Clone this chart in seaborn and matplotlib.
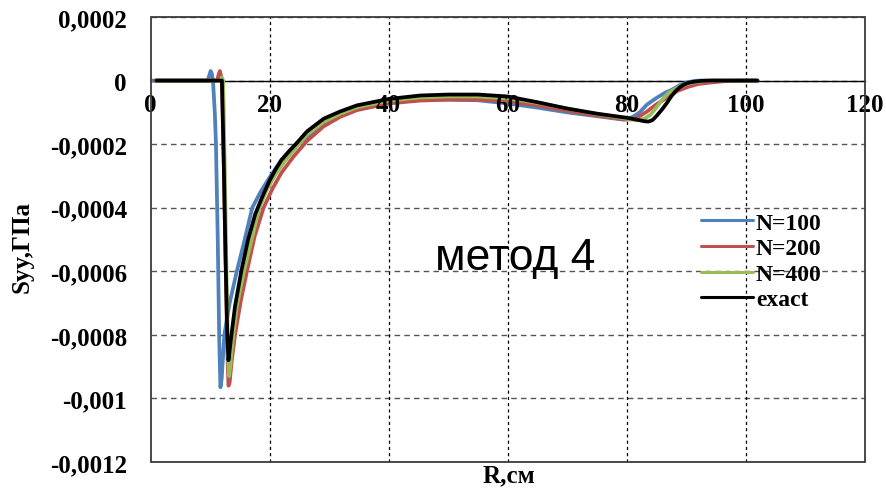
import numpy as np
import pandas as pd
import matplotlib
matplotlib.use("Agg")
import matplotlib.pyplot as plt
from matplotlib.patches import Rectangle
import seaborn as sns

# ---- data: radial coordinate R (cm) and stress Syy (units of 1e-4 GPa) ----
r_n100 = [0.3, 9.6, 9.85, 10.1, 10.3, 10.5, 10.8, 11.0, 11.3, 11.55, 11.75, 11.95, 12.4,
          13.3, 14.5, 15.7, 17.1, 18.5, 20, 22, 23.4, 26.3, 29.1, 31.9, 34.7, 40, 45.3,
          50, 55, 60, 65, 70, 75, 79.5, 81, 82.2, 83.4, 85, 86.5, 87.5, 89, 90.3, 91.5,
          92.5, 102]
s_n100 = [0, 0, 0.15, 0.3, 0.22, 0, -1.0, -2.0, -5.0, -8.2, -9.65, -9.4, -8.0,
          -7.0, -6.0, -5.1, -4.0, -3.5, -3.05, -2.5, -2.2, -1.8, -1.38, -1.1, -0.9, -0.7, -0.6,
          -0.6, -0.62, -0.72, -0.85, -1.0, -1.12, -1.23, -1.15, -1.0, -0.76, -0.55, -0.38, -0.3,
          -0.14, -0.05, -0.01, 0, 0]

r_n200 = [0.8, 11.2, 11.45, 11.65, 11.85, 12.0, 12.3, 12.6, 12.9, 13.1, 13.3, 13.6, 14.2,
          15.2, 16.2, 17.5, 19.0, 20.5, 22, 24, 26.3, 29.1, 31.9, 34.7, 40, 45.3, 50, 55,
          60, 65, 70, 75, 80, 81.5, 83.4, 85, 86.8, 88.5, 90.3, 92, 94.2, 96.5, 99, 102]
s_n200 = [0, 0, 0.2, 0.3, 0.15, 0, -2.5, -5.5, -8.5, -9.6, -9.5, -8.9, -8.0,
          -6.9, -6.0, -4.9, -4.0, -3.4, -2.9, -2.4, -1.9, -1.44, -1.14, -0.93, -0.72, -0.63, -0.6, -0.6,
          -0.65, -0.78, -0.95, -1.1, -1.23, -1.2, -0.98, -0.75, -0.54, -0.33, -0.2, -0.11, -0.06,
          -0.02, 0, 0]

r_n400 = [1, 11.8, 12.0, 12.2, 12.5, 12.8, 13.05, 13.2, 13.4, 13.9, 14.5, 15.7, 17, 18.3,
          19.5, 21, 22.5, 24.5, 26.3, 29.1, 31.9, 34.7, 40, 45.3, 50, 55, 60, 65, 70, 75, 80,
          81.7, 83, 84, 85, 86, 87, 88.4, 89.5, 91.2, 93, 95, 102]
s_n400 = [0, 0, 0.1, 0, -3.0, -6.5, -8.8, -9.3, -9.0, -8.0, -7.1, -6.0, -5.0, -4.0,
          -3.45, -2.95, -2.55, -2.1, -1.7, -1.3, -1.04, -0.84, -0.63, -0.53, -0.5, -0.5, -0.56,
          -0.7, -0.88, -1.05, -1.2, -1.25, -1.2, -1.08, -0.85, -0.6, -0.4, -0.24, -0.14, -0.06,
          -0.02, 0, 0]

r_exact = [1, 12.0, 12.3, 12.6, 12.9, 13.1, 13.35, 13.6, 14.2, 15.3, 16.4, 17.6, 18.8, 20,
           21, 22, 23.4, 24.5, 26.3, 29.1, 31.9, 34.7, 40, 45.3, 50, 55, 60, 65, 70, 75, 80,
           82, 83.0, 83.7, 84.4, 85.1, 86.0, 86.8, 87.5, 88.2, 88.9, 89.6, 90.4, 91.2, 92.5,
           94, 102]
s_exact = [0, 0, -2.5, -5.5, -8.0, -8.8, -8.4, -8.0, -7.1, -5.95, -5.0, -4.2, -3.65, -3.15,
           -2.8, -2.5, -2.2, -1.98, -1.6, -1.2, -0.97, -0.78, -0.58, -0.47, -0.44, -0.44, -0.5,
           -0.68, -0.88, -1.04, -1.17, -1.24, -1.28, -1.29, -1.24, -1.1, -0.9, -0.7, -0.5, -0.34,
           -0.22, -0.13, -0.07, -0.04, -0.01, 0, 0]

series_labels = ["N=100", "N=200", "N=400", "exact"]
series_colors = ["#4F81BD", "#C0504D", "#9BBB59", "#000000"]

x_ticks = [0, 20, 40, 60, 80, 100, 120]
y_ticks = [0.0002, 0, -0.0002, -0.0004, -0.0006, -0.0008, -0.001, -0.0012]
y_tick_labels = ["0,0002", "0", "-0,0002", "-0,0004", "-0,0006", "-0,0008", "-0,001", "-0,0012"]

x_label = "R,см"
y_label = "Syy,ГПа"
annotation = "метод 4"

# ---- style ----
sns.set_style("white")
plt.rcParams["font.family"] = ["Liberation Serif", "DejaVu Serif"]
plt.rcParams["text.color"] = "black"
plt.rcParams["xtick.labelcolor"] = "black"
plt.rcParams["ytick.labelcolor"] = "black"

fig = plt.figure(figsize=(8.87, 4.89), dpi=100)
ax = fig.add_axes([0.1697, 0.0532, 0.805, 0.910])

frames = []
for r, s, lab in zip([r_n100, r_n200, r_n400, r_exact],
                     [s_n100, s_n200, s_n400, s_exact], series_labels):
    frames.append(pd.DataFrame({"R": r, "Syy": np.array(s) * 1e-4, "series": lab}))
data = pd.concat(frames, ignore_index=True)

for lab, col in zip(series_labels, series_colors):
    sub = data[data["series"] == lab]
    sns.lineplot(data=sub, x="R", y="Syy", ax=ax, color=col, lw=2.7, label=lab,
                 sort=False, estimator=None, solid_joinstyle="round", solid_capstyle="round",
                 zorder=2)

# horizontal axis crosses at zero (set before tick labels, since it rebuilds ticks)
for side in ["left", "right", "top"]:
    ax.spines[side].set_visible(False)
ax.spines["bottom"].set_position(("data", 0))
ax.spines["bottom"].set_color("black")
ax.spines["bottom"].set_linewidth(1.0)
ax.spines["bottom"].set_zorder(1.5)

ax.set_xlim(0, 120)
ax.set_ylim(-0.0012, 0.0002)
ax.set_xticks(x_ticks)
ax.set_xticklabels([str(t) for t in x_ticks])
ax.set_yticks(y_ticks)
ax.set_yticklabels(y_tick_labels)

ax.tick_params(axis="both", length=0, labelsize=18, labelcolor="black")
ax.tick_params(axis="x", pad=9)
ax.tick_params(axis="y", pad=17)
for lbl in ax.get_xticklabels() + ax.get_yticklabels():
    lbl.set_fontweight("bold")

# gridlines: dashed gray horizontals, short dashed black verticals, beneath the curves
ax.yaxis.grid(True, linestyle=(0, (4, 3)), color="#555555", lw=1.0, zorder=0.5)
ax.xaxis.grid(False)
for xt in x_ticks[1:-1]:
    ax.axvline(xt, linestyle=(0, (2.5, 2.5)), color="#000000", lw=0.9, zorder=0.6)
ax.yaxis.set_zorder(0.5)
ax.xaxis.set_zorder(3)

# plot-area border
ax.add_patch(Rectangle((0, 0), 1, 1, transform=ax.transAxes, fill=False,
                       edgecolor="#3a3a3a", lw=1.3, clip_on=False, zorder=5))

ax.set_xlabel("")
ax.set_ylabel("")
fig.text(0.025, 1 - 247 / 489, y_label, rotation=90, ha="center", va="center",
         fontsize=18, fontweight="bold", color="black")
fig.text(509 / 887, 1 - 476 / 489, x_label, ha="center", va="center",
         fontsize=18, fontweight="bold", color="black")

ax.text(61.3, -0.000594, annotation, ha="center", va="baseline", fontsize=32,
        color="black", family=["Liberation Sans", "DejaVu Sans"])

leg = ax.legend(loc="upper left", bbox_to_anchor=(0.765, 0.572), frameon=False,
                prop={"family": ["Liberation Serif"], "weight": "bold", "size": 17},
                handlelength=2.2, handletextpad=0.1, labelspacing=0.17, borderpad=0.2,
                borderaxespad=0, labelcolor="black")
for line in leg.get_lines():
    line.set_linewidth(2.2)

fig.savefig("out.png", dpi=100)
